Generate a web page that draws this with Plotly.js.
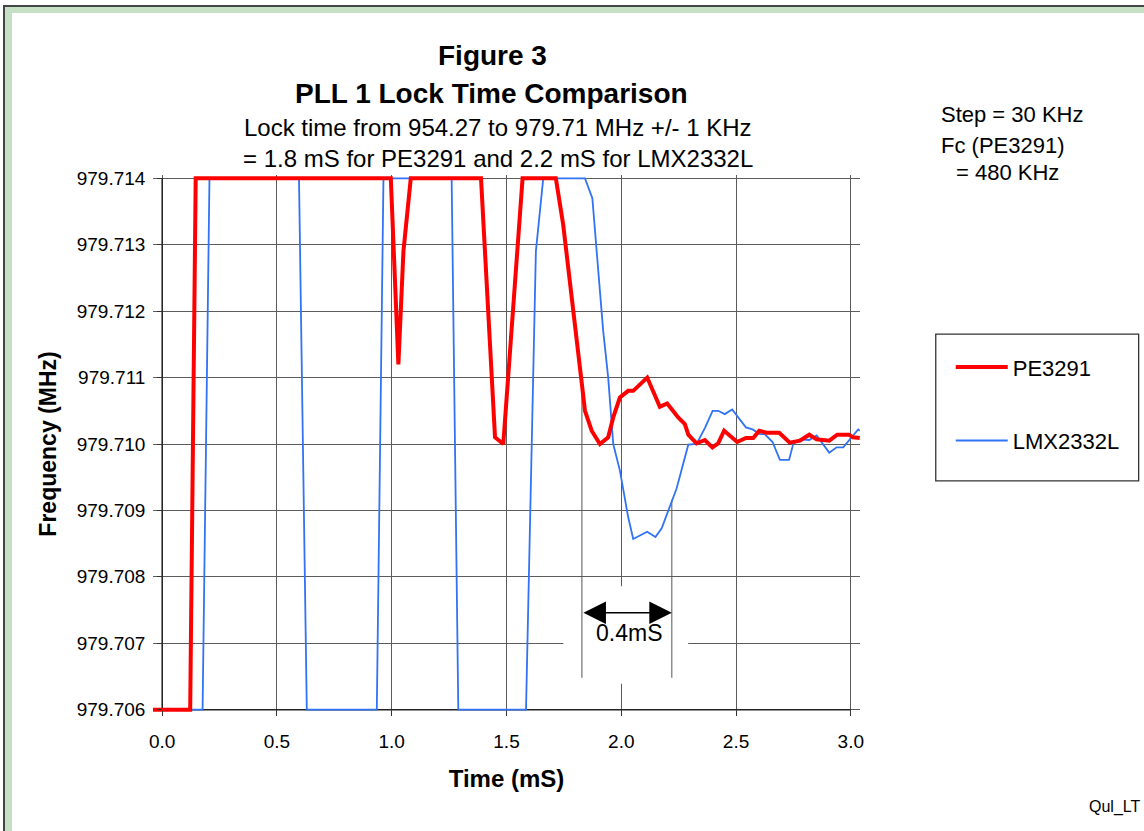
<!DOCTYPE html>
<html>
<head>
<meta charset="utf-8">
<script src="https://cdn.plot.ly/plotly-3.0.1.min.js"></script>
<style>
  html, body { margin:0; padding:0; width:1144px; height:831px; overflow:hidden; background:#ffffff; }
  #frame { position:absolute; left:3px; top:5px; width:1300px; height:1000px; background:#c5e0c5;
           border-left:2px solid #444; border-top:2px solid #444; }
  #inner { position:absolute; left:7px; top:6px; width:1300px; height:1000px; background:#ffffff; }
  #chart { position:absolute; left:0; top:0; width:1144px; height:831px; }
</style>
</head>
<body>
<div id="frame"><div id="inner"></div></div>
<div id="chart"></div>
<script>
// ---- data (time in mS, frequency in MHz) ----
const timePE = [-0.04, 0.122, 0.146, 0.996, 1.029, 1.051, 1.083, 1.389, 1.450, 1.486, 1.570, 1.715, 1.747,
  1.842, 1.871, 1.907, 1.943, 1.965, 1.994, 2.030, 2.052, 2.113, 2.168, 2.200, 2.248, 2.277, 2.292, 2.328,
  2.364, 2.397, 2.422, 2.448, 2.505, 2.543, 2.575, 2.601, 2.633, 2.688, 2.734, 2.778, 2.819, 2.851, 2.906,
  2.941, 2.992, 3.009, 3.039];
const freqPE = [979.706, 979.706, 979.714, 979.714, 979.7112, 979.7129, 979.714, 979.714, 979.7101, 979.7100,
  979.714, 979.714, 979.7133, 979.7105, 979.7102, 979.7100, 979.7101, 979.7104, 979.7107, 979.7108, 979.7108,
  979.7110, 979.71056, 979.71061, 979.7104, 979.7103, 979.71014, 979.71001, 979.71006, 979.70995, 979.71001,
  979.7102, 979.71003, 979.71009, 979.71009, 979.7102, 979.71017, 979.71017, 979.71002, 979.71005, 979.71014,
  979.71007, 979.71005, 979.71014, 979.71014, 979.7101, 979.71009];

const timeLMX = [-0.04, 0.176, 0.206, 0.596, 0.630, 0.935, 0.964, 1.261, 1.290, 1.585, 1.628, 1.660, 1.842,
  1.874, 1.921, 1.943, 1.965, 1.994, 2.030, 2.052, 2.113, 2.149, 2.176, 2.241, 2.292, 2.328, 2.364, 2.398,
  2.422, 2.451, 2.483, 2.543, 2.572, 2.604, 2.625, 2.659, 2.691, 2.731, 2.749, 2.778, 2.819, 2.851, 2.906,
  2.938, 2.967, 3.032, 3.039];
const freqLMX = [979.706, 979.706, 979.714, 979.714, 979.706, 979.706, 979.714, 979.714, 979.706, 979.706,
  979.7129, 979.714, 979.714, 979.7137, 979.71171, 979.7110, 979.7100, 979.7096, 979.7089, 979.70857,
  979.70868, 979.7086, 979.70873, 979.70933, 979.70999, 979.7100, 979.71024, 979.7105, 979.7105, 979.71045,
  979.71052, 979.71025, 979.71022, 979.71015, 979.71015, 979.71003, 979.70976, 979.70976, 979.7100,
  979.71007, 979.71006, 979.71013, 979.70987, 979.70995, 979.70995, 979.71022, 979.7102];

const xTickVals = [0, 0.5, 1.0, 1.5, 2.0, 2.5, 3.0];
const xTickText = ['0.0', '0.5', '1.0', '1.5', '2.0', '2.5', '3.0'];
const yTickVals = [979.706, 979.707, 979.708, 979.709, 979.710, 979.711, 979.712, 979.713, 979.714];
const yTickText = ['979.706', '979.707', '979.708', '979.709', '979.710', '979.711', '979.712', '979.713', '979.714'];

// lock-time marker (0.4 mS interval)
const markStart = 1.8285, markEnd = 2.2203;
const markStartTop = 979.71096, markEndTop = 979.70916, markBottom = 979.70648;
const arrowLevel = 979.70746;

// ---- layout helpers (pixel -> paper) ----
const W = 1144, H = 831;
const M = {l:152.8, r:283.8, t:174.7, b:117.7};
const PW = W - M.l - M.r, PH = H - M.t - M.b;
const px = x => (x - M.l) / PW;
const py = y => (H - M.b - y) / PH;
const FONT = 'Liberation Sans, Arial, Helvetica, sans-serif';

// LMX drawn first so PE3291 lies on top; legend order set by legendrank
const traces = [
  {x: timeLMX, y: freqLMX, type: 'scatter', mode: 'lines', name: 'LMX2332L', legendgroup: 'b', legendrank: 2,
   line: {color: '#3073f5', width: 1.8}, hoverinfo: 'skip'},
  {x: timePE, y: freqPE, type: 'scatter', mode: 'lines', name: 'PE3291', legendgroup: 'a', legendrank: 1,
   line: {color: '#ff0000', width: 4}, hoverinfo: 'skip'}
];

const ann = (text, x, y, size, opts) => Object.assign({
  text: text, xref: 'paper', yref: 'paper', x: px(x), y: py(y), showarrow: false,
  xanchor: 'center', yanchor: 'middle', font: {family: FONT, size: size, color: '#000'}
}, opts || {});

const layout = {
  width: W, height: H,
  margin: {l: M.l, r: M.r, t: M.t, b: M.b, pad: 0},
  paper_bgcolor: 'rgba(0,0,0,0)',
  plot_bgcolor: '#ffffff',
  font: {family: FONT, color: '#000'},
  showlegend: true,
  legend: {
    x: px(951), y: py(346), xanchor: 'left', yanchor: 'top',
    bgcolor: 'rgba(0,0,0,0)', borderwidth: 0,
    font: {family: FONT, size: 22, color: '#000'},
    traceorder: 'grouped', tracegroupgap: 42, itemwidth: 52
  },
  xaxis: {
    range: [-0.04, 3.04], anchor: 'free', position: (H - M.b - 710) / PH,
    tickvals: xTickVals, ticktext: xTickText, ticks: 'outside', ticklen: 5, tickcolor: '#333',
    ticklabelstandoff: 9,
    showgrid: true, gridcolor: '#5c5c5c', gridwidth: 1, zeroline: false, showline: false,
    tickfont: {family: FONT, size: 19, color: '#000'},
    title: {text: '<b>Time (mS)</b>', font: {family: FONT, size: 24, color: '#000'}, standoff: 19},
    fixedrange: true
  },
  yaxis: {
    range: [979.70595, 979.71405], anchor: 'free', position: (162 - M.l) / PW,
    tickvals: yTickVals, ticktext: yTickText, ticks: 'outside', ticklen: 5, tickcolor: '#333',
    ticklabelstandoff: 8,
    showgrid: true, gridcolor: '#5c5c5c', gridwidth: 1, zeroline: false, showline: false,
    tickfont: {family: FONT, size: 19, color: '#000'},
    title: {text: '<b>Frequency (MHz)</b>', font: {family: FONT, size: 23, color: '#000'}, standoff: 12},
    fixedrange: true
  },
  shapes: [
    // white label box over the grid
    {type: 'rect', xref: 'x', yref: 'y', x0: 1.7473, x1: 2.2916, y0: 979.70639, y1: 979.70786,
     fillcolor: '#ffffff', line: {width: 0}, layer: 'between'},
    // axis lines
    {type: 'line', xref: 'x', yref: 'y', x0: 0, x1: 0, y0: 979.706, y1: 979.714,
     line: {color: '#222', width: 1.5}, layer: 'between'},
    {type: 'line', xref: 'x', yref: 'y', x0: 0, x1: 3.0, y0: 979.706, y1: 979.706,
     line: {color: '#222', width: 1.5}, layer: 'between'},
    // lock-time markers
    {type: 'line', xref: 'x', yref: 'y', x0: markStart, x1: markStart, y0: markStartTop, y1: markBottom,
     line: {color: '#555', width: 1}, layer: 'between'},
    {type: 'line', xref: 'x', yref: 'y', x0: markEnd, x1: markEnd, y0: markEndTop, y1: markBottom,
     line: {color: '#555', width: 1}, layer: 'between'},
    // legend box
    {type: 'rect', xref: 'paper', yref: 'paper', x0: px(936), x1: px(1139), y0: py(481), y1: py(334),
     line: {color: '#333', width: 1.3}, fillcolor: 'rgba(0,0,0,0)', layer: 'above'}
  ],
  annotations: [
    ann('<b>Figure 3</b>', 492, 55, 28),
    ann('<b>PLL 1 Lock Time Comparison</b>', 491, 93, 28),
    ann('Lock time from 954.27 to 979.71 MHz +/- 1 KHz', 498, 127, 24),
    ann('= 1.8 mS for PE3291 and 2.2 mS for LMX2332L', 498, 158, 24),
    ann('Step = 30 KHz', 939, 114, 22, {xanchor: 'left'}),
    ann('Fc (PE3291)', 939, 145, 22, {xanchor: 'left'}),
    ann('= 480 KHz', 954, 172, 22, {xanchor: 'left'}),
    ann('Qul_LT', 1115, 807, 16),
    {text: '0.4mS', xref: 'x', yref: 'y', x: 2.033, y: 979.70716, showarrow: false,
     xanchor: 'center', yanchor: 'middle', font: {family: FONT, size: 23, color: '#000'}},
    {text: '', xref: 'x', yref: 'y', x: markEnd, y: arrowLevel, axref: 'x', ayref: 'y',
     ax: markStart, ay: arrowLevel, showarrow: true, arrowside: 'end+start',
     arrowhead: 2, startarrowhead: 2, arrowsize: 3, startarrowsize: 3, arrowwidth: 1.5,
     arrowcolor: '#000', standoff: 0, startstandoff: 0}
  ]
};

Plotly.newPlot('chart', traces, layout, {staticPlot: true, displayModeBar: false});
</script>
</body>
</html>
